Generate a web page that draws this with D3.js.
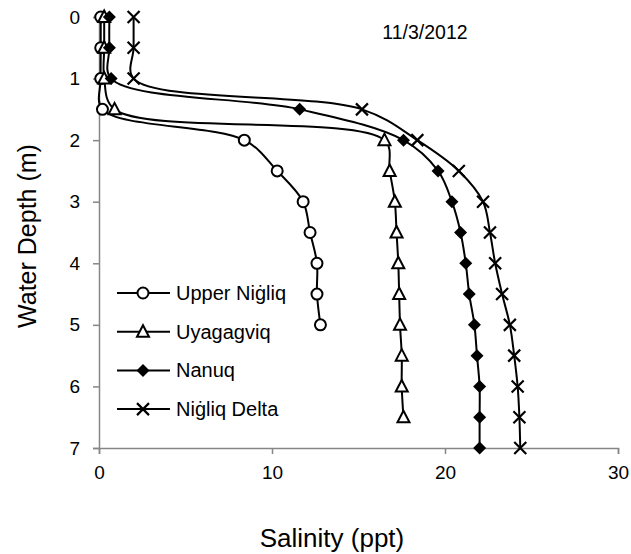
<!DOCTYPE html>
<html>
<head>
<meta charset="utf-8">
<script src="https://cdn.jsdelivr.net/npm/d3@7"></script>
<style>
body { margin: 0; background: #fff; }
text { font-family: "Liberation Sans", Arial, sans-serif; fill: #000; }
</style>
</head>
<body>
<script>
// depths (m), shared by all stations
var depths = [0, 0.5, 1, 1.5, 2, 2.5, 3, 3.5, 4, 4.5, 5, 5.5, 6, 6.5, 7];

// salinity (ppt) per station, read top to bottom
var upperNigliq = [0.1, 0.1, 0.1, 0.2, 8.4, 10.3, 11.8, 12.2, 12.6, 12.6, 12.8];
var uyagagviq = [0.3, 0.3, 0.3, 0.9, 16.5, 16.8, 17.1, 17.2, 17.3, 17.35, 17.4, 17.5, 17.5, 17.6];
var nanuq = [0.6, 0.6, 0.7, 11.6, 17.6, 19.6, 20.4, 20.9, 21.2, 21.4, 21.7, 21.85, 22.0, 22.0, 22.0];
var nigliqDelta = [2.0, 2.0, 2.0, 15.2, 18.4, 20.8, 22.2, 22.6, 22.9, 23.3, 23.75, 24.0, 24.2, 24.3, 24.35];

var seriesNames = ["Upper Niġliq", "Uyagagviq", "Nanuq", "Niġliq Delta"];
var seriesValues = [upperNigliq, uyagagviq, nanuq, nigliqDelta];
var markers = ["circle", "triangle", "diamond", "cross"];

var xTicks = [0, 10, 20, 30];
var yTicks = [0, 1, 2, 3, 4, 5, 6, 7];

var width = 631, height = 554;
var margin = {top: 17, right: 13, bottom: 106, left: 99};

var svg = d3.select("body")
    .append("svg")
    .attr("width", width)
    .attr("height", height);

var x = d3.scaleLinear()
    .domain([0, 30])
    .range([margin.left, width - margin.right]);

var y = d3.scaleLinear()
    .domain([0, 7])
    .range([margin.top, height - margin.bottom]);

// axes
var xAxis = svg.append("g")
    .attr("transform", "translate(0," + y(7) + ")")
    .call(d3.axisBottom(x).tickValues(xTicks).tickFormat(d3.format("d"))
        .tickSize(6).tickPadding(12));

var yAxis = svg.append("g")
    .attr("transform", "translate(" + x(0) + ",0)")
    .call(d3.axisLeft(y).tickValues(yTicks).tickFormat(d3.format("d"))
        .tickSize(6).tickPadding(13));

[xAxis, yAxis].forEach(function(a) {
    a.select(".domain").attr("stroke", "#868686").attr("stroke-width", 1.5);
    a.selectAll(".tick line").attr("stroke", "#868686").attr("stroke-width", 1.5);
    a.selectAll(".tick text")
        .attr("font-size", 19)
        .attr("font-family", "Liberation Sans, Arial, sans-serif");
});

// smoothed lines, like the spreadsheet's smooth option
var line = d3.line()
    .x(function(d) { return x(d.s); })
    .y(function(d) { return y(d.d); })
    .curve(d3.curveCatmullRom.alpha(0.5));

var sym = {
    circle: function(g) {
        g.append("circle").attr("r", 5.5)
            .attr("fill", "#fff").attr("stroke", "#000").attr("stroke-width", 2);
    },
    triangle: function(g) {
        g.append("path").attr("d", "M0,-6.5L6,5L-6,5Z")
            .attr("fill", "#fff").attr("stroke", "#000").attr("stroke-width", 2);
    },
    diamond: function(g) {
        g.append("path").attr("d", "M0,-6.5L6.5,0L0,6.5L-6.5,0Z")
            .attr("fill", "#000");
    },
    cross: function(g) {
        g.append("path").attr("d", "M-6,-6L6,6M-6,6L6,-6")
            .attr("stroke", "#000").attr("stroke-width", 2.2);
    }
};

seriesValues.forEach(function(vals, i) {
    var pts = vals.map(function(v, j) { return {s: v, d: depths[j]}; });

    svg.append("path")
        .datum(pts)
        .attr("d", line)
        .attr("fill", "none")
        .attr("stroke", "#000")
        .attr("stroke-width", 2);

    svg.selectAll(".m" + i)
        .data(pts)
        .enter()
        .append("g")
        .attr("class", "m" + i)
        .attr("transform", function(d) {
            return "translate(" + x(d.s) + "," + y(d.d) + ")";
        })
        .each(function() { sym[markers[i]](d3.select(this)); });
});

// legend
var legend = svg.selectAll(".legend")
    .data(seriesNames)
    .enter()
    .append("g")
    .attr("class", "legend")
    .attr("transform", function(d, i) {
        return "translate(117," + (293 + i * 38.7) + ")";
    });

legend.append("line")
    .attr("x1", 0).attr("x2", 53)
    .attr("stroke", "#000").attr("stroke-width", 2);

legend.append("g")
    .attr("transform", "translate(26,0)")
    .each(function(d, i) { sym[markers[i]](d3.select(this)); });

legend.append("text")
    .attr("x", 59)
    .attr("dy", "0.35em")
    .attr("font-size", 20)
    .text(function(d) { return d; });

// titles
svg.append("text")
    .attr("x", 425)
    .attr("y", 39)
    .attr("text-anchor", "middle")
    .attr("font-size", 19.5)
    .text("11/3/2012");

svg.append("text")
    .attr("x", 332)
    .attr("y", 547)
    .attr("text-anchor", "middle")
    .attr("font-size", 26)
    .text("Salinity (ppt)");

svg.append("text")
    .attr("transform", "translate(36,236) rotate(-90)")
    .attr("text-anchor", "middle")
    .attr("font-size", 25)
    .text("Water Depth (m)");
</script>
</body>
</html>
